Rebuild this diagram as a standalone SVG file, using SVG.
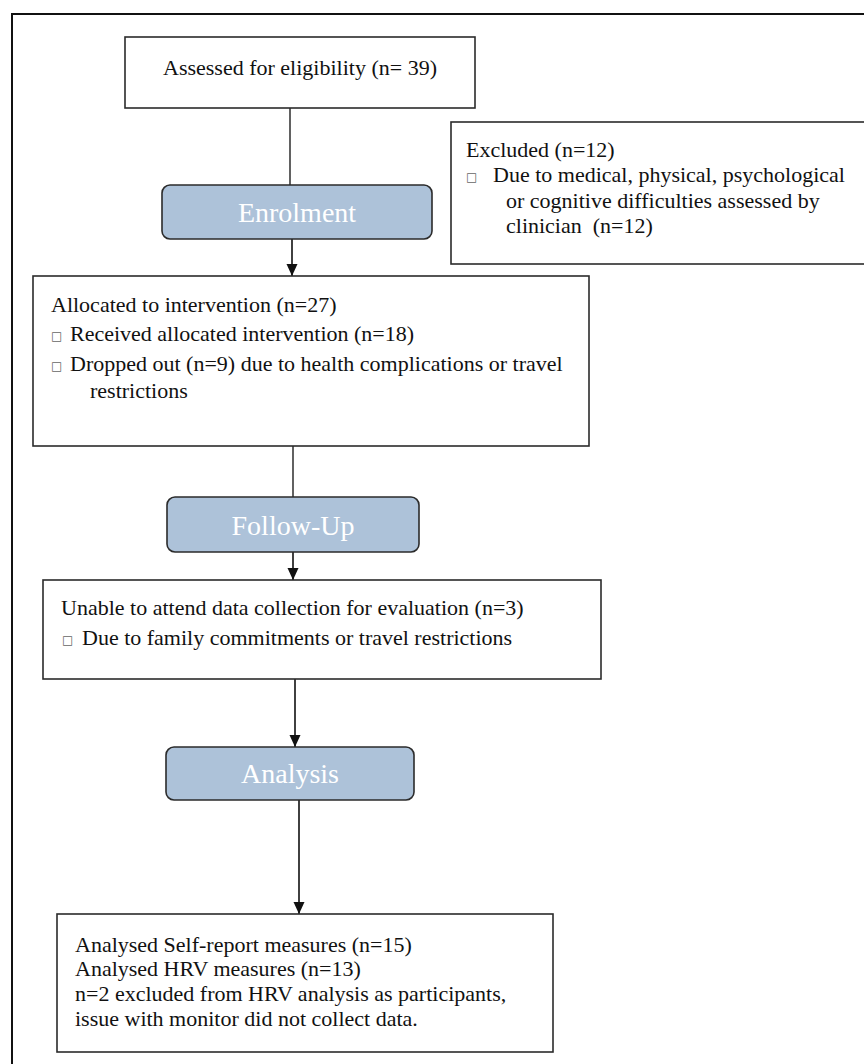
<svg xmlns="http://www.w3.org/2000/svg" width="864" height="1064" viewBox="0 0 864 1064">
<defs>
<style>
.box{fill:#fff;stroke:#2b2b2b;stroke-width:1.6}
.stage{fill:#adc2d9;stroke:#2b2b2b;stroke-width:1.6}
.t{font-family:"Liberation Serif","Times New Roman",serif;font-size:22px;fill:#111}
.st{font-family:"Liberation Serif","Times New Roman",serif;font-size:28px;fill:#fff;text-anchor:middle}
.b{font-family:"DejaVu Sans",sans-serif;font-size:12px;fill:#666}
.ln{stroke:#3a3a3a;stroke-width:1.6;fill:none}
.ar{stroke:#111;stroke-width:1.6;fill:none;marker-end:url(#ah)}
</style>
<marker id="ah" viewBox="0 0 12 12" refX="12" refY="6" markerWidth="12" markerHeight="12" markerUnits="userSpaceOnUse" orient="auto">
<path d="M0,0.5 L12,6 L0,11.5 Z" fill="#111"/>
</marker>
</defs>
<rect width="864" height="1064" fill="#fff"/>
<rect x="12" y="14" width="900" height="1100" fill="none" stroke="#111" stroke-width="2"/>

<g id="connectors">
<line class="ln" x1="290" y1="108" x2="290" y2="185"/>
<line class="ar" x1="292" y1="239" x2="292" y2="276"/>
<line class="ln" x1="293" y1="446" x2="293" y2="497"/>
<line class="ar" x1="293" y1="552" x2="293" y2="580"/>
<line class="ar" x1="295" y1="679" x2="295" y2="747"/>
<line class="ar" x1="299" y1="800" x2="299" y2="914"/>
</g>

<g id="assessed">
<rect class="box" x="125" y="37" width="350" height="71"/>
<text class="t" x="300" y="75" text-anchor="middle">Assessed for eligibility (n= 39)</text>
</g>

<g id="excluded">
<rect class="box" x="451" y="122" width="460" height="142"/>
<text class="t" x="466" y="157">Excluded (n=12)</text>
<text class="b" x="466" y="181">□</text>
<text class="t" x="493" y="182">Due to medical, physical, psychological</text>
<text class="t" x="506" y="208">or cognitive difficulties assessed by</text>
<text class="t" x="506" y="233" xml:space="preserve">clinician  (n=12)</text>
</g>

<g id="enrolment">
<rect class="stage" x="162" y="185" width="270" height="54" rx="8"/>
<text class="st" x="297" y="222">Enrolment</text>
</g>

<g id="allocated">
<rect class="box" x="33" y="276" width="556" height="170"/>
<text class="t" x="51" y="312">Allocated to intervention (n=27)</text>
<text class="b" x="51" y="340">□</text>
<text class="t" x="70" y="341">Received allocated intervention (n=18)</text>
<text class="b" x="51" y="370">□</text>
<text class="t" x="70" y="371">Dropped out (n=9) due to health complications or travel</text>
<text class="t" x="90" y="398">restrictions</text>
</g>

<g id="followup">
<rect class="stage" x="167" y="497" width="252" height="55" rx="8"/>
<text class="st" x="293" y="535">Follow-Up</text>
</g>

<g id="unable">
<rect class="box" x="43" y="580" width="558" height="99"/>
<text class="t" x="61" y="615">Unable to attend data collection for evaluation (n=3)</text>
<text class="b" x="62" y="644">□</text>
<text class="t" x="82" y="645">Due to family commitments or travel restrictions</text>
</g>

<g id="analysis">
<rect class="stage" x="166" y="747" width="248" height="53" rx="8"/>
<text class="st" x="290" y="783">Analysis</text>
</g>

<g id="analysed">
<rect class="box" x="57" y="914" width="496" height="138"/>
<text class="t" x="75" y="952">Analysed Self-report measures (n=15)</text>
<text class="t" x="75" y="976">Analysed HRV measures (n=13)</text>
<text class="t" x="75" y="1001">n=2 excluded from HRV analysis as participants,</text>
<text class="t" x="75" y="1026">issue with monitor did not collect data.</text>
</g>
</svg>
